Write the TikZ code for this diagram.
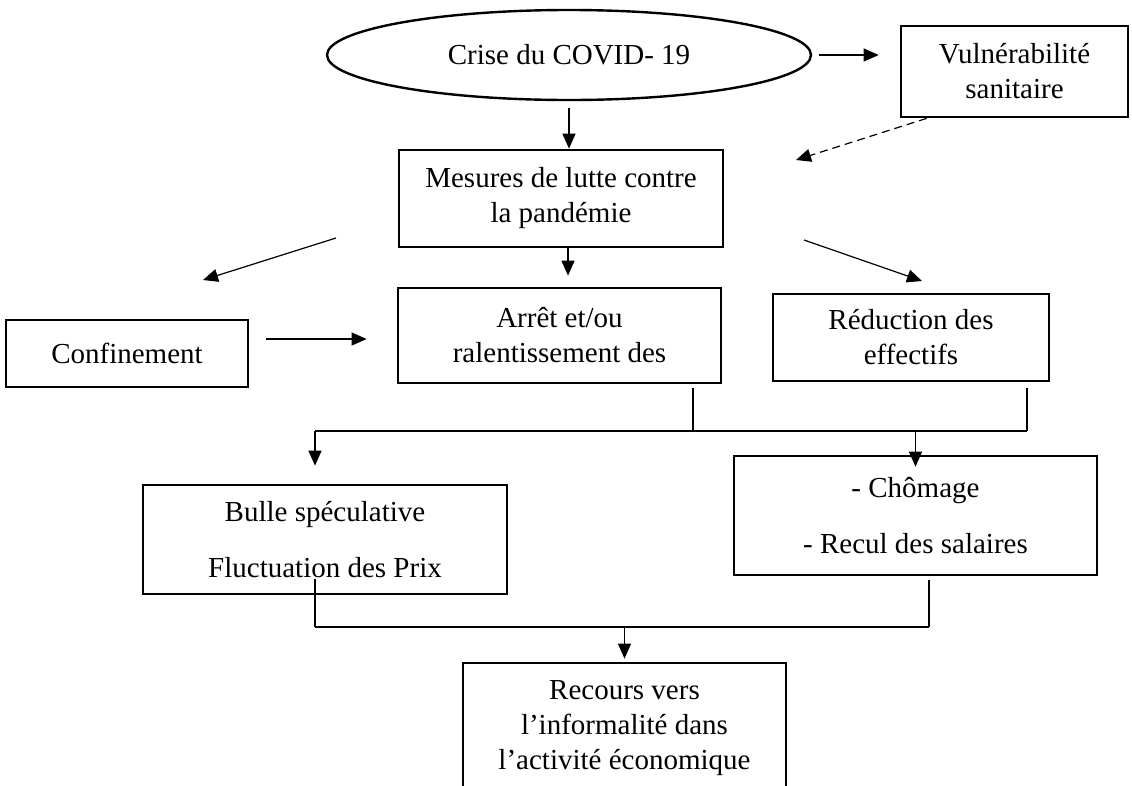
\documentclass[tikz,border=0pt]{standalone}
\usepackage{fontspec}
\setmainfont{Liberation Serif}
\usetikzlibrary{arrows.meta,shapes.geometric}

\tikzset{
  boite/.style={draw, line width=2.7pt, align=center, inner sep=2pt},
  fleche/.style={-{Triangle[length=15pt,width=13pt]}, line width=1.2pt}
}

\begin{document}
\begin{tikzpicture}[x=1pt, y=-1pt, font=\fontsize{29}{35}\selectfont]
\path[use as bounding box, clip] (0,0) rectangle (1132,785);
% les cases
\node[boite, ellipse, line width=2.4pt, minimum width=484pt, minimum height=90pt] (crise) at (569,55) {Crise du COVID- 19};
\node[boite, minimum width=227pt, minimum height=91pt] (vuln) at (1014.5,71.5) {Vulnérabilité\\sanitaire};
\node[boite, minimum width=324pt, minimum height=97pt] (mesures) at (561,198.5) {Mesures de lutte contre\\la pandémie};
\node[boite, minimum width=242pt, minimum height=67pt] (confin) at (127,353.5) {Confinement};
\node[boite, minimum width=323pt, minimum height=95pt] (arret) at (559.5,335.5) {Arrêt et/ou\\ralentissement des};
\node[boite, minimum width=276pt, minimum height=87pt] (reduc) at (911,337.5) {Réduction des\\effectifs};
\node[boite, minimum width=364pt, minimum height=109pt] (bulle) at (325,539.5) {Bulle spéculative\\[21pt]Fluctuation des Prix};
\node[boite, minimum width=363pt, minimum height=119pt] (chomage) at (915.5,515.5) {- Chômage\\[21pt]- Recul des salaires};
\node[boite, minimum width=323pt, minimum height=130pt] (recours) at (624.5,728) {Recours vers\\l’informalité dans\\l’activité économique};

% bouts libres des fleches
\coordinate (pv) at (796,160);
\coordinate (pg1) at (336,238);
\coordinate (pg2) at (203,280);
\coordinate (pd1) at (804,240);
\coordinate (pd2) at (922,281);
\coordinate (ja) at (693,431);
\coordinate (jr) at (1027,431);
\coordinate (jb) at (315,431);
\coordinate (kb) at (315,627);
\coordinate (kc) at (929,627);

% fleches du haut
\draw[fleche, shorten <=7pt, shorten >=21pt] (crise.east) -- (crise.east -| vuln.west);
\draw[fleche, shorten <=7pt] (crise.south) -- (crise.south |- mesures.north);
\draw[fleche, dash pattern=on 8pt off 5pt] ([xshift=27pt]vuln.south west) -- (pv);
\draw[fleche] (pg1) -- (pg2);
\draw[fleche, shorten >=11pt] ([xshift=7pt]mesures.south) -- ([xshift=8.5pt]arret.north);
\draw[fleche] (pd1) -- (pd2);
\draw[fleche, shorten <=17pt, shorten >=30pt] ([yshift=14.5pt]confin.east) -- ([yshift=-3.5pt]arret.west);

% embranchements
\draw[line width=1.2pt, shorten <=4pt] (arret.south -| ja) -- (ja);
\draw[line width=1.2pt, shorten <=6pt] (reduc.south -| jr) -- (jr);
\draw[line width=1.2pt] (jb) -- (jr);
\draw[fleche, shorten >=18pt] (jb) -- (jb |- bulle.north);
\draw[fleche] (chomage.north |- jb) -- ([yshift=-12pt]chomage.north);
\draw[line width=1.2pt, shorten <=-16pt] (bulle.south -| kb) -- (kb);
\draw[line width=1.2pt, shorten <=4pt] (chomage.south -| kc) -- (kc);
\draw[line width=1.2pt] (kb) -- (kc);
\draw[fleche, shorten >=3pt] (recours.north |- kb) -- (recours.north);
\end{tikzpicture}
\end{document}
